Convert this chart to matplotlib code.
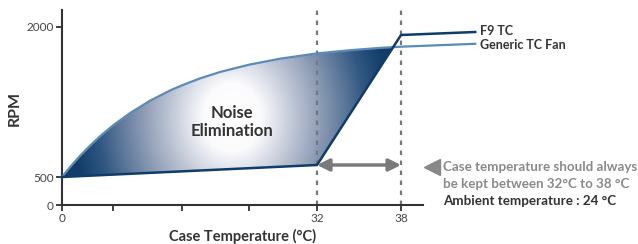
import numpy as np
import matplotlib
matplotlib.use('Agg')
import matplotlib.pyplot as plt
from matplotlib.patches import Polygon
from matplotlib.colors import LinearSegmentedColormap

plt.rcParams['font.family'] = ['Lato', 'DejaVu Sans']

# data (temperature in C, fan speed in RPM)
generic_temp = [0, 1.25, 2.82, 4.39, 5.96, 8, 9.97, 12.29, 14.61, 16, 18.15, 20.54,
                24, 27.65, 32, 34.36, 36.5, 38, 43.3]
generic_rpm = [500, 598, 711, 813, 907, 1016, 1139, 1263, 1365, 1417, 1486, 1550,
               1623, 1683, 1736, 1768, 1791, 1803, 1832]
f9_temp = [0, 32, 38, 43.3]
f9_rpm = [500, 620, 1920, 1950]
range_lo, range_hi = 32, 38
x_ticks = [0, 8, 16, 24, 32, 38]
x_ticklabels = ['0', '', '', '', '32', '38']
y_ticks = [0, 500, 2000]

W, H = 638, 244
def fx(p):
    return p / W
def fy(p):
    return 1 - p / H

# the chart's axes are not linear, so piecewise scales
xk_t = [0, 8, 16, 24, 32, 38, 60]
xk_p = [0, 51, 120, 187, 255, 339, 647]
yk_r = [0, 500, 2000, 3000]
yk_p = [0, 28, 178, 278]

fig = plt.figure(figsize=(6.38, 2.44), dpi=100)
ax = fig.add_axes([fx(62), 39 / H, 361 / W, 195 / H])
ax.set_xscale('function', functions=(lambda x: np.interp(x, xk_t, xk_p),
                                     lambda p: np.interp(p, xk_p, xk_t)))
ax.set_yscale('function', functions=(lambda y: np.interp(y, yk_r, yk_p),
                                     lambda p: np.interp(p, yk_p, yk_r)))

# region between the two curves, up to where they cross
tt = np.linspace(0, 38, 2000)
diff = np.interp(tt, f9_temp, f9_rpm) - np.interp(tt, generic_temp, generic_rpm)
t_cross = tt[np.argmax(diff > 0)]
r_cross = np.interp(t_cross, f9_temp, f9_rpm)
top = [(t, r) for t, r in zip(generic_temp, generic_rpm) if t < t_cross] + [(t_cross, r_cross)]
bot = [(t, r) for t, r in zip(f9_temp, f9_rpm) if t < t_cross][::-1]
poly = Polygon(top + bot, closed=True, transform=ax.transData)

cmap = LinearSegmentedColormap.from_list('ne', [(0, '#ffffff'), (0.18, '#fbfbfd'),
                                                (0.55, '#8f9db6'), (0.85, '#2d5580'),
                                                (1.0, '#123d69')])
u = np.linspace(0, 1, 400)
v = np.linspace(0, 1, 200)
U, V = np.meshgrid(u, v)
PX = 62 + U * 361
PY = 205 - V * 195
d = np.sqrt(((PX - 232) / 160) ** 2 + ((PY - 118) / 190) ** 2)
im = ax.imshow(np.clip(d, 0, 1), cmap=cmap, vmin=0, vmax=1, origin='lower',
               extent=[0, 1, 0, 1], transform=ax.transAxes, aspect='auto', zorder=1)
im.set_clip_path(poly)

ax.plot(generic_temp, generic_rpm, color='#5b8cb8', lw=1.6, clip_on=False, zorder=3)
ax.plot(f9_temp, f9_rpm, color='#0f3c68', lw=1.8, clip_on=False, zorder=4)

for t in (range_lo, range_hi):
    ax.plot([t, t], [0, 2170], color='#777777', lw=1.6, ls=(0, (2, 2.5)), zorder=2)

ax.annotate('', xy=(range_hi, 620), xytext=(range_lo, 620),
            arrowprops=dict(arrowstyle='<|-|>', color='#7a7a7a', lw=2.5,
                            mutation_scale=18, shrinkA=0, shrinkB=0), zorder=5)

ax.set_xlim(0, 39.57)
ax.set_ylim(0, 2170)
ax.set_xticks(x_ticks, x_ticklabels)
ax.set_yticks(y_ticks, [str(y) for y in y_ticks])
ax.tick_params(length=4, width=1.3, color='#333333', labelcolor='#444444', labelsize=8.5, pad=2)
for s in ('top', 'right'):
    ax.spines[s].set_visible(False)
for s in ('left', 'bottom'):
    ax.spines[s].set_color('#333333')
    ax.spines[s].set_linewidth(1.5)
ax.set_xlabel('Case Temperature (°C)', fontsize=10.5, fontweight='bold', color='#333333', labelpad=3)
fig.text(fx(15), fy(108), 'RPM', rotation=90, fontsize=11.5, fontweight='bold',
         color='#333333', ha='center', va='center')

fig.text(fx(232), fy(113), 'Noise', fontsize=12, fontweight='bold', color='#333333', ha='center', va='center')
fig.text(fx(232), fy(131), 'Elimination', fontsize=12, fontweight='bold', color='#333333', ha='center', va='center')

fig.text(fx(480), fy(31), 'F9 TC', fontsize=9, fontweight='bold', color='#333333', va='center')
fig.text(fx(480), fy(45), 'Generic TC Fan', fontsize=9, fontweight='bold', color='#333333', va='center')

ax.plot(40.2, 600, marker='<', ms=11, color='#888888', clip_on=False, zorder=5)
fig.text(fx(443), fy(167), 'Case temperature should always', fontsize=9.6, fontweight='bold', color='#8a8a8a', va='center')
fig.text(fx(443), fy(184), 'be kept between 32°C to 38 °C', fontsize=9.6, fontweight='bold', color='#8a8a8a', va='center')
fig.text(fx(443), fy(201), 'Ambient temperature : 24 °C', fontsize=9.6, fontweight='bold', color='#333333', va='center')

fig.savefig('out.png', dpi=100)
